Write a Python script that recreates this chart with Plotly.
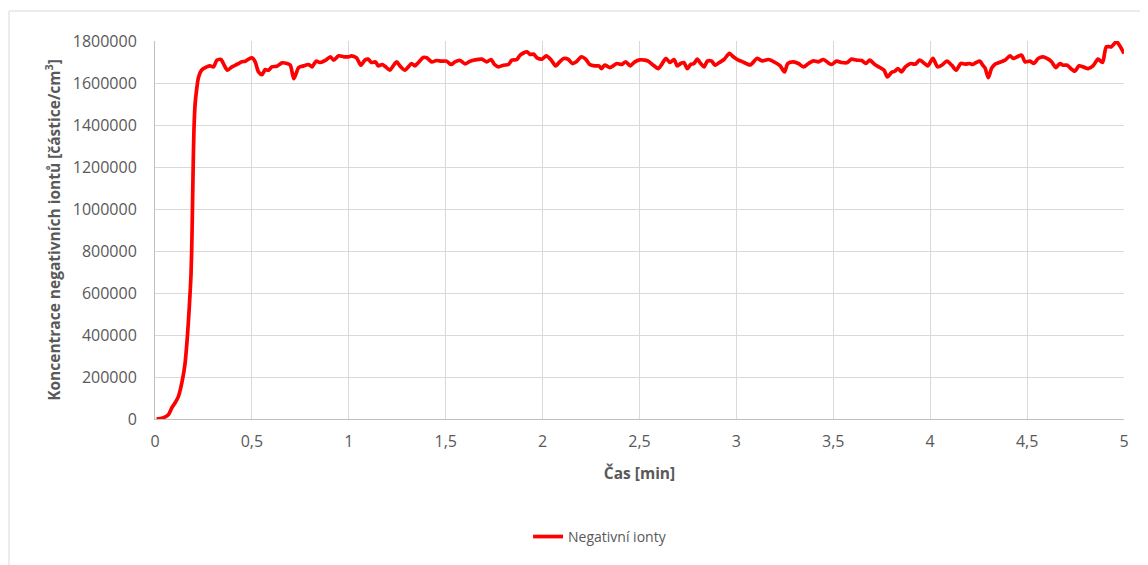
import plotly.graph_objects as go

time_min = [0.008, 0.04, 0.07, 0.089, 0.103, 0.12, 0.141, 0.155, 0.167, 0.177, 0.186, 0.191, 0.196, 0.201, 0.207, 0.215, 0.224, 0.241, 0.267, 0.284, 0.302, 0.319, 0.340, 0.357, 0.374, 0.397, 0.422, 0.448, 0.466, 0.483, 0.5, 0.517, 0.534, 0.552, 0.569, 0.586, 0.603, 0.629, 0.655, 0.681, 0.698, 0.716, 0.728, 0.741, 0.767, 0.793, 0.810, 0.831, 0.853, 0.879, 0.905, 0.922, 0.948, 0.974, 1.0, 1.014, 1.040, 1.062, 1.083, 1.100, 1.117, 1.138, 1.152, 1.172, 1.190, 1.212, 1.229, 1.247, 1.264, 1.290, 1.307, 1.324, 1.341, 1.359, 1.384, 1.402, 1.428, 1.453, 1.479, 1.505, 1.528, 1.548, 1.574, 1.600, 1.626, 1.652, 1.686, 1.712, 1.734, 1.752, 1.772, 1.798, 1.824, 1.841, 1.867, 1.884, 1.919, 1.936, 1.953, 1.971, 1.997, 2.019, 2.045, 2.067, 2.088, 2.109, 2.131, 2.153, 2.174, 2.200, 2.222, 2.243, 2.269, 2.291, 2.303, 2.321, 2.347, 2.364, 2.384, 2.407, 2.429, 2.452, 2.476, 2.502, 2.528, 2.545, 2.571, 2.597, 2.614, 2.636, 2.657, 2.678, 2.695, 2.712, 2.729, 2.747, 2.764, 2.781, 2.798, 2.816, 2.833, 2.850, 2.872, 2.890, 2.912, 2.936, 2.964, 2.984, 3.010, 3.029, 3.072, 3.106, 3.132, 3.166, 3.200, 3.226, 3.248, 3.265, 3.295, 3.320, 3.346, 3.372, 3.397, 3.423, 3.449, 3.474, 3.491, 3.517, 3.543, 3.569, 3.594, 3.620, 3.646, 3.668, 3.688, 3.714, 3.740, 3.762, 3.779, 3.800, 3.817, 3.834, 3.851, 3.872, 3.899, 3.923, 3.945, 3.971, 3.988, 4.014, 4.038, 4.060, 4.086, 4.111, 4.134, 4.158, 4.180, 4.202, 4.220, 4.237, 4.257, 4.271, 4.283, 4.300, 4.317, 4.334, 4.360, 4.386, 4.412, 4.429, 4.449, 4.472, 4.489, 4.515, 4.535, 4.557, 4.583, 4.609, 4.626, 4.648, 4.669, 4.686, 4.707, 4.720, 4.746, 4.768, 4.789, 4.815, 4.840, 4.866, 4.889, 4.909, 4.935, 4.961, 4.978, 5.0]

neg_ions = [0, 5000, 22000, 57000, 76000, 105000, 184000, 264000, 391000, 534000, 693000, 880000, 1150000, 1376000, 1500000, 1570000, 1625000, 1662000, 1676800, 1681600, 1676800, 1708800, 1712000, 1684800, 1660800, 1676800, 1688000, 1700800, 1704000, 1713600, 1720000, 1700800, 1652800, 1640000, 1664000, 1660800, 1676800, 1680000, 1696000, 1692800, 1684800, 1620800, 1644800, 1673600, 1681600, 1688000, 1676800, 1704000, 1697600, 1707200, 1724800, 1708800, 1729600, 1724800, 1724800, 1729600, 1720000, 1684800, 1708800, 1713600, 1697600, 1700800, 1681600, 1688000, 1676800, 1660800, 1681600, 1700800, 1681600, 1660800, 1676800, 1692800, 1681600, 1697600, 1721600, 1720000, 1700800, 1707200, 1704000, 1704000, 1688000, 1700800, 1707200, 1691200, 1704000, 1710400, 1713600, 1700800, 1712000, 1688000, 1676800, 1684800, 1688000, 1708800, 1712000, 1732800, 1748800, 1736000, 1737600, 1720000, 1713600, 1729600, 1708800, 1681600, 1700800, 1716800, 1713600, 1692800, 1700800, 1724800, 1713600, 1688000, 1681600, 1681600, 1668800, 1684800, 1673600, 1681600, 1692800, 1688000, 1700800, 1681600, 1700800, 1710400, 1708800, 1704000, 1684800, 1668800, 1688000, 1716800, 1697600, 1712000, 1681600, 1692800, 1697600, 1668800, 1688000, 1692800, 1713600, 1692800, 1676800, 1704000, 1704000, 1684800, 1697600, 1712000, 1740800, 1724800, 1708800, 1702400, 1686400, 1716800, 1705600, 1712000, 1697600, 1681600, 1652800, 1692800, 1700800, 1692800, 1676800, 1692800, 1705600, 1700800, 1712000, 1696000, 1688000, 1704000, 1697600, 1696000, 1713600, 1708800, 1707200, 1692800, 1708800, 1688000, 1673600, 1660800, 1628800, 1649600, 1656000, 1668800, 1652800, 1676800, 1692800, 1689600, 1708800, 1692800, 1681600, 1716800, 1676800, 1684800, 1704000, 1684800, 1660800, 1692800, 1689600, 1692800, 1688000, 1697600, 1704000, 1684800, 1672000, 1625600, 1670400, 1689600, 1699200, 1708800, 1729600, 1716800, 1724800, 1732800, 1700800, 1704000, 1692800, 1716800, 1724800, 1713600, 1700800, 1673600, 1692800, 1684800, 1684800, 1673600, 1656000, 1681600, 1676800, 1668800, 1681600, 1713600, 1697600, 1772800, 1772800, 1796800, 1777600, 1740800]

x_tick_vals = [0, 0.5, 1, 1.5, 2, 2.5, 3, 3.5, 4, 4.5, 5]
x_tick_text = ["0", "0,5", "1", "1,5", "2", "2,5", "3", "3,5", "4", "4,5", "5"]
y_tick_vals = [0, 200000, 400000, 600000, 800000, 1000000, 1200000, 1400000, 1600000, 1800000]
y_tick_text = ["0", "200000", "400000", "600000", "800000", "1000000", "1200000", "1400000", "1600000", "1800000"]

series_name = "Negativní ionty"
x_title = "Čas [min]"
y_title = "Koncentrace negativních iontů [částice/cm<sup>3</sup>]"

FONT = "'Open Sans', sans-serif"
TXT = "#595959"

fig = go.Figure()
fig.add_trace(go.Scatter(
    x=time_min, y=neg_ions, mode="lines", name=series_name,
    line=dict(color="#FF0000", width=3.7, shape="spline", smoothing=0.7),
))

fig.update_layout(
    width=1148, height=565,
    margin=dict(l=147, r=32, t=33, b=154),
    paper_bgcolor="white", plot_bgcolor="white",
    font=dict(family=FONT, color=TXT, size=14),
    showlegend=True,
    legend=dict(orientation="h", x=0.385, xanchor="left", y=-0.312, yanchor="middle",
                font=dict(size=14, color=TXT, family=FONT), bgcolor="rgba(0,0,0,0)"),
    xaxis=dict(range=[0, 5], tickvals=x_tick_vals, ticktext=x_tick_text,
               showgrid=True, gridcolor="#d9d9d9", gridwidth=1,
               showline=True, linecolor="#bfbfbf", linewidth=1,
               zeroline=False, ticks="", ticklabelstandoff=8,
               tickfont=dict(size=16, color=TXT, family=FONT),
               title=dict(text="<b>" + x_title + "</b>", font=dict(size=15.5, color=TXT, family=FONT), standoff=16)),
    yaxis=dict(range=[0, 1800000], tickvals=y_tick_vals, ticktext=y_tick_text,
               showgrid=True, gridcolor="#d9d9d9", gridwidth=1,
               showline=True, linecolor="#bfbfbf", linewidth=1,
               zeroline=False, ticks="", ticklabelstandoff=14,
               tickfont=dict(size=16, color=TXT, family=FONT),
               title=dict(text="<b>" + y_title + "</b>", font=dict(size=15.5, color=TXT, family=FONT), standoff=8)),
    shapes=[dict(type="rect", xref="paper", yref="paper",
                 x0=-146/969, x1=1.2, y0=-1.0, y1=1 + 30/378,
                 line=dict(color="#d9d9d9", width=1), fillcolor="rgba(0,0,0,0)", layer="below")],
)

fig.write_html("out.html")
